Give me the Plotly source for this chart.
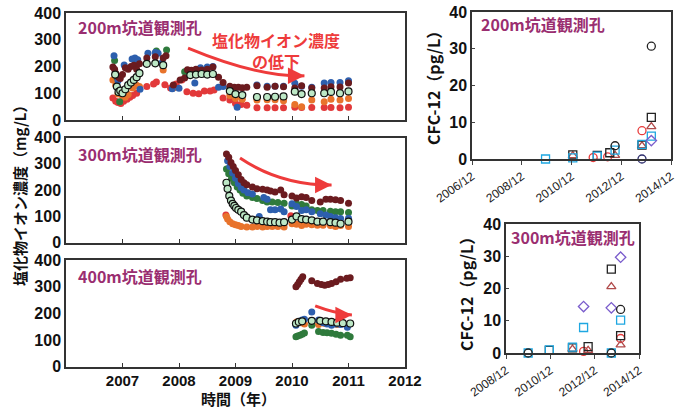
import plotly.graph_objects as go

# ---------------- Chloride data (decimal year, mg/L) ----------------
# 200 m gallery
blue200_t = [2006.85, 2006.92, 2007.03, 2007.17, 2007.22, 2007.27, 2007.31, 2007.45, 2007.58, 2007.63, 2007.7, 2007.88, 2008.0, 2008.28, 2008.38, 2008.5, 2008.6, 2008.7, 2008.78, 2009.03, 2009.38, 2009.56, 2009.7, 2009.85, 2010.05, 2010.17, 2010.35, 2010.57, 2010.69, 2010.85, 2011.0]
blue200_v = [240, 147, 206, 228, 232, 225, 115, 250, 252, 250, 214, 117, 119, 138, 195, 198, 200, 122, 125, 48, 131, 126, 126, 126, 137, 126, 122, 138, 140, 140, 147]
green200_t = [2006.86, 2006.9, 2006.95, 2007.25, 2007.6, 2007.78, 2008.1, 2008.2, 2008.9, 2011.0]
green200_v = [222, 160, 68, 225, 258, 262, 180, 185, 120, 142]
maroon200_t = [2006.83, 2006.86, 2006.88, 2006.9, 2006.93, 2006.96, 2007.0, 2007.05, 2007.1, 2007.15, 2007.2, 2007.25, 2007.3, 2007.43, 2007.58, 2007.72, 2007.77, 2007.9, 2008.02, 2008.1, 2008.15, 2008.22, 2008.3, 2008.4, 2008.5, 2008.6, 2008.7, 2008.78, 2008.9, 2008.98, 2009.05, 2009.12, 2009.2, 2009.38, 2009.56, 2009.7, 2009.85, 2010.05, 2010.17, 2010.35, 2010.57, 2010.69, 2010.85, 2011.0]
maroon200_v = [198, 190, 175, 165, 160, 155, 170, 195, 190, 200, 205, 190, 210, 232, 236, 232, 240, 131, 150, 157, 188, 186, 190, 187, 190, 198, 160, 140, 126, 122, 122, 121, 122, 128, 122, 126, 124, 120, 128, 120, 120, 124, 123, 138]
lgreen200_t = [2006.87, 2006.9, 2006.93, 2006.96, 2007.0, 2007.05, 2007.1, 2007.15, 2007.2, 2007.25, 2007.3, 2007.43, 2007.58, 2007.72, 2008.2, 2008.3, 2008.4, 2008.5, 2008.6, 2008.9, 2009.0, 2009.12, 2009.38, 2009.56, 2009.7, 2009.85, 2010.05, 2010.17, 2010.35, 2010.57, 2010.69, 2010.85, 2011.0]
lgreen200_v = [170, 125, 105, 110, 100, 115, 130, 140, 150, 160, 175, 210, 212, 205, 168, 170, 172, 170, 172, 108, 97, 93, 86, 86, 87, 88, 106, 97, 100, 100, 105, 100, 107]
orange200_t = [2006.83, 2006.88, 2006.92, 2006.96, 2007.0, 2007.05, 2007.1, 2007.18, 2007.25, 2007.3, 2007.72, 2007.9, 2008.9, 2009.0, 2009.12, 2009.38, 2009.56, 2009.7, 2009.85, 2010.05, 2010.17, 2010.35, 2010.57, 2010.69, 2010.85, 2011.0]
orange200_v = [150, 130, 97, 110, 90, 85, 95, 120, 130, 125, 187, 120, 92, 80, 78, 75, 76, 76, 72, 58, 50, 75, 68, 78, 75, 80]
red200_t = [2006.83, 2006.88, 2006.92, 2006.97, 2007.02, 2007.08, 2007.13, 2007.18, 2007.25, 2007.43, 2007.55, 2007.6, 2007.75, 2007.85, 2007.95, 2008.05, 2008.14, 2008.25, 2008.35, 2008.45, 2008.55, 2008.62, 2008.78, 2008.9, 2009.0, 2009.1, 2009.2, 2009.38, 2009.56, 2009.7, 2009.85, 2010.05, 2010.17, 2010.35, 2010.57, 2010.69, 2010.85, 2011.0]
red200_v = [82, 70, 65, 62, 70, 78, 85, 92, 100, 125, 135, 142, 132, 120, 135, 150, 106, 100, 98, 108, 108, 112, 82, 75, 62, 58, 55, 46, 46, 46, 46, 48, 47, 47, 47, 47, 46, 48]

# 300 m gallery
blue300_t = [2008.86, 2008.9, 2008.95, 2009.0, 2009.05, 2009.1, 2009.15, 2009.22, 2009.3, 2009.42, 2009.5, 2009.56, 2009.62, 2009.7, 2009.8, 2009.86, 2010.0, 2010.08, 2010.17, 2010.25, 2010.35, 2010.5, 2010.6, 2010.68, 2010.77, 2010.86, 2011.0]
blue300_v = [312, 290, 265, 245, 225, 210, 200, 190, 185, 100, 172, 165, 125, 125, 128, 118, 148, 138, 122, 125, 118, 110, 105, 100, 95, 92, 93]
green300_t = [2008.84, 2008.88, 2008.93, 2008.98, 2009.03, 2009.08, 2009.13, 2009.2, 2009.3, 2009.38, 2009.48, 2009.56, 2009.65, 2009.75, 2009.86, 2010.0, 2010.08, 2010.17, 2010.25, 2010.35, 2010.45, 2010.55, 2010.68, 2010.77, 2010.86, 2011.0]
green300_v = [280, 262, 245, 228, 212, 200, 188, 178, 172, 168, 160, 155, 155, 153, 150, 140, 148, 145, 140, 125, 122, 122, 120, 118, 118, 115]
maroon300_t = [2008.84, 2008.88, 2008.92, 2008.96, 2009.0, 2009.05, 2009.1, 2009.15, 2009.2, 2009.3, 2009.38, 2009.48, 2009.56, 2009.62, 2009.7, 2009.8, 2009.86, 2010.0, 2010.08, 2010.17, 2010.25, 2010.35, 2010.5, 2010.6, 2010.68, 2010.77, 2010.86, 2011.0]
maroon300_v = [337, 325, 305, 290, 275, 258, 240, 228, 220, 212, 205, 203, 200, 197, 193, 200, 182, 178, 170, 175, 172, 160, 155, 165, 165, 163, 160, 150]
lgreen300_t = [2008.84, 2008.86, 2008.89, 2008.92, 2008.95, 2008.98, 2009.01, 2009.05, 2009.1, 2009.15, 2009.2, 2009.3, 2009.38, 2009.48, 2009.56, 2009.62, 2009.7, 2009.78, 2009.86, 2010.0, 2010.08, 2010.17, 2010.25, 2010.35, 2010.45, 2010.55, 2010.68, 2010.77, 2010.86, 2011.0]
lgreen300_v = [228, 205, 178, 160, 148, 140, 132, 125, 118, 105, 95, 88, 85, 82, 80, 78, 78, 76, 78, 88, 100, 90, 88, 85, 80, 80, 78, 76, 72, 80]
orange300_t = [2008.84, 2008.86, 2008.9, 2008.95, 2009.0, 2009.05, 2009.1, 2009.2, 2009.3, 2009.38, 2009.48, 2009.56, 2009.65, 2009.75, 2009.86, 2010.0, 2010.08, 2010.17, 2010.25, 2010.35, 2010.45, 2010.55, 2010.68, 2010.77, 2010.86, 2011.0]
orange300_v = [100, 90, 80, 72, 68, 65, 62, 60, 60, 62, 60, 62, 62, 62, 60, 72, 70, 65, 70, 68, 66, 66, 65, 62, 65, 62]
red300_t = [2008.83, 2009.98]
red300_v = [105, 102]

# 400 m gallery
blue400_t = [2010.07, 2010.1, 2010.14, 2010.18, 2010.22, 2010.35, 2010.47, 2010.55, 2010.62, 2010.7, 2010.78, 2010.86, 2010.98]
blue400_v = [155, 165, 170, 175, 178, 205, 175, 165, 160, 155, 160, 158, 148]
green400_t = [2010.07, 2010.1, 2010.14, 2010.18, 2010.22, 2010.35, 2010.47, 2010.55, 2010.62, 2010.7, 2010.78, 2010.86, 2010.98, 2011.03]
green400_v = [112, 115, 118, 122, 126, 155, 132, 128, 127, 125, 122, 118, 118, 112]
maroon400_t = [2010.07, 2010.1, 2010.13, 2010.16, 2010.19, 2010.35, 2010.45, 2010.52, 2010.58, 2010.64, 2010.7, 2010.78, 2010.86, 2010.97, 2011.03]
maroon400_v = [300, 308, 318, 328, 337, 322, 312, 308, 305, 308, 312, 318, 328, 332, 333]
lgreen400_t = [2010.07, 2010.12, 2010.18, 2010.35, 2010.5, 2010.6, 2010.7, 2010.8, 2010.9, 2011.03]
lgreen400_v = [162, 168, 170, 172, 172, 170, 168, 165, 163, 162]
orange400_t = [2010.08, 2010.16, 2010.22, 2010.47, 2010.58, 2010.7, 2010.8]
orange400_v = [168, 165, 160, 158, 162, 160, 158]

# ---------------- CFC-12 data (pg/L) ----------------
c200_blackcirc_d = ["2012-09-01", "2014-02-15"]
c200_blackcirc_v = [3.6, 30.7]
c200_blacksq_d = ["2010-12-20", "2011-12-15", "2012-06-15", "2013-10-01", "2014-02-15"]
c200_blacksq_v = [1.1, 1.0, 1.7, 3.8, 11.3]
c200_redcirc_d = ["2011-10-15", "2012-05-15", "2013-10-01"]
c200_redcirc_v = [0.4, 0.6, 7.7]
c200_tri_d = ["2010-12-20", "2012-09-01", "2013-10-01", "2014-02-15"]
c200_tri_v = [0.9, 1.0, 3.6, 8.8]
c200_cyansq_d = ["2009-11-15", "2010-12-20", "2011-12-15", "2012-09-01", "2013-10-01", "2014-02-15"]
c200_cyansq_v = [0.0, 0.3, 0.8, 2.4, 4.0, 6.2]
c200_diam_d = ["2014-02-15"]
c200_diam_v = [5.0]
c200_navy_d = ["2013-10-01"]
c200_navy_v = [0.0]

c300_blackcirc_d = ["2009-12-01", "2013-09-01", "2014-02-01"]
c300_blackcirc_v = [0.0, 0.0, 13.5]
c300_blacksq_d = ["2010-11-15", "2011-12-01", "2012-08-15", "2013-09-01", "2014-02-01"]
c300_blacksq_v = [0.8, 1.6, 2.0, 26.0, 5.4]
c300_redcirc_d = ["2012-06-01", "2014-02-01"]
c300_redcirc_v = [0.5, 4.5]
c300_tri_d = ["2011-12-01", "2012-08-15", "2013-09-01", "2014-02-01"]
c300_tri_v = [1.2, 0.8, 20.6, 2.5]
c300_cyansq_d = ["2009-12-01", "2010-11-15", "2011-12-01", "2012-06-01", "2013-09-01", "2014-02-01"]
c300_cyansq_v = [0.0, 1.0, 1.8, 7.9, 0.0, 10.2]
c300_diam_d = ["2012-06-01", "2013-09-01", "2014-02-01"]
c300_diam_v = [14.4, 14.0, 29.7]

# ---------------- styling ----------------
W, H = 677, 409
C_BLUE = "#2d5fae"
C_GREEN = "#2f7a3c"
C_MAROON = "#6b1b1f"
C_LG = "#bde8c6"
C_ORANGE = "#e8732c"
C_RED = "#e2393a"
C_PURPLE = "#9a2e70"
ARROW = "#ee3b3b"
JP = "Noto Sans CJK JP"
NUM = "Liberation Sans"


def px_x(p):
    return p / W


def px_y(p):
    return 1 - p / H


fig = go.Figure()


def dots(t, v, color, ax, outline=None):
    fig.add_trace(go.Scatter(
        x=t, y=v, mode="markers", xaxis="x" + ax, yaxis="y" + ax,
        marker=dict(size=7, color=color,
                    line=dict(color=outline or color, width=1.2 if outline else 0)),
        showlegend=False, hoverinfo="skip"))


panels = [
    ("", red200_t, red200_v, orange200_t, orange200_v, green200_t, green200_v, blue200_t, blue200_v,
     maroon200_t, maroon200_v, lgreen200_t, lgreen200_v),
    ("2", red300_t, red300_v, orange300_t, orange300_v, green300_t, green300_v, blue300_t, blue300_v,
     maroon300_t, maroon300_v, lgreen300_t, lgreen300_v),
    ("3", [], [], orange400_t, orange400_v, green400_t, green400_v, blue400_t, blue400_v,
     maroon400_t, maroon400_v, lgreen400_t, lgreen400_v),
]
for (ax, rt, rv, ot, ov, gt, gv, bt, bv, mt, mv, lt, lv) in panels:
    dots(rt, rv, C_RED, ax)
    dots(ot, ov, C_ORANGE, ax)
    dots(gt, gv, C_GREEN, ax)
    dots(bt, bv, C_BLUE, ax)
    dots(mt, mv, C_MAROON, ax)
    dots(lt, lv, C_LG, ax, outline="#111111")


def opens(d, v, symbol, color, ax, size=8):
    fig.add_trace(go.Scatter(
        x=d, y=v, mode="markers", xaxis="x" + ax, yaxis="y" + ax,
        marker=dict(size=size, symbol=symbol, color=color,
                    line=dict(color=color, width=1.3)),
        showlegend=False, hoverinfo="skip", cliponaxis=False))


for ax, sets in [
    ("4", [(c200_navy_d, c200_navy_v, "circle-open", "#2b2b6b"),
           (c200_redcirc_d, c200_redcirc_v, "circle-open", "#e83a3a"),
           (c200_tri_d, c200_tri_v, "triangle-up-open", "#b04a4a"),
           (c200_blacksq_d, c200_blacksq_v, "square-open", "#222222"),
           (c200_cyansq_d, c200_cyansq_v, "square-open", "#1ea7e1"),
           (c200_diam_d, c200_diam_v, "diamond-open", "#7a5ccc"),
           (c200_blackcirc_d, c200_blackcirc_v, "circle-open", "#222222")]),
    ("5", [(c300_redcirc_d, c300_redcirc_v, "circle-open", "#e83a3a"),
           (c300_tri_d, c300_tri_v, "triangle-up-open", "#b04a4a"),
           (c300_blacksq_d, c300_blacksq_v, "square-open", "#222222"),
           (c300_cyansq_d, c300_cyansq_v, "square-open", "#1ea7e1"),
           (c300_diam_d, c300_diam_v, "diamond-open", "#7a5ccc"),
           (c300_blackcirc_d, c300_blackcirc_v, "circle-open", "#222222")]),
]:
    for d, v, s, c in sets:
        opens(d, v, s, c, ax)

tickfont_l = dict(family=NUM, size=16, color="#111111", weight="bold")
xtickfont_l = dict(family=NUM, size=15, color="#111111", weight="bold")

left_dom = [px_x(66), px_x(405)]
y_doms = [[px_y(120), px_y(13)], [px_y(242.7), px_y(137.5)], [px_y(366.7), px_y(260)]]
years = [2007, 2008, 2009, 2010, 2011, 2012]

layout = dict(
    template="none",
    width=W, height=H, margin=dict(l=0, r=0, t=0, b=0, autoexpand=False),
    paper_bgcolor="white", plot_bgcolor="white", showlegend=False,
)
for i, ax in enumerate(["", "2", "3"]):
    layout["xaxis" + ax] = dict(
        domain=left_dom, anchor="y" + ax, range=[2006, 2012], automargin=False,
        tickvals=years, ticktext=[str(y) for y in years],
        showticklabels=(ax == "3"), ticks="inside", ticklen=4, tickwidth=1,
        tickcolor="#333", showline=True, mirror=True, linecolor="#333", linewidth=1.5,
        showgrid=False, zeroline=False, tickfont=xtickfont_l)
    layout["yaxis" + ax] = dict(
        domain=y_doms[i], anchor="x" + ax, range=[0, 400], tickvals=[0, 100, 200, 300, 400],
        ticks="", showline=True, mirror=True, linecolor="#333", linewidth=1.5, automargin=False,
        showgrid=False, zeroline=False, tickfont=tickfont_l)

cfc_tickfont = dict(family=NUM, size=16, color="#111111", weight="bold")
cfc_xfont = dict(family=NUM, size=12, color="#222222")
top_ticks = ["2006-12-01", "2008-12-01", "2010-12-01", "2012-12-01", "2014-12-01"]
bot_ticks = ["2008-12-01", "2010-12-01", "2012-12-01", "2014-12-01"]
layout["xaxis4"] = dict(
    domain=[px_x(472), px_x(671)], anchor="y4", type="date", automargin=False,
    range=["2006-12-01", "2014-12-01"], tickvals=top_ticks,
    ticktext=[t[:4] + "/12" for t in top_ticks], tickangle=-35,
    ticks="outside", ticklen=4, showline=True, mirror=True, linecolor="#333",
    linewidth=1.5, showgrid=False, zeroline=False, tickfont=cfc_xfont)
layout["yaxis4"] = dict(
    domain=[px_y(159), px_y(12)], anchor="x4", range=[0, 40], tickvals=[0, 10, 20, 30, 40],
    ticks="inside", ticklen=3, showline=True, mirror=True, linecolor="#333", linewidth=1.5,
    automargin=False, showgrid=False, zeroline=False, tickfont=cfc_tickfont)
layout["xaxis5"] = dict(
    domain=[px_x(506), px_x(639)], anchor="y5", type="date", automargin=False,
    range=["2008-12-01", "2014-12-01"], tickvals=bot_ticks,
    ticktext=[t[:4] + "/12" for t in bot_ticks], tickangle=-35,
    ticks="outside", ticklen=4, showline=True, mirror=True, linecolor="#333",
    linewidth=1.5, showgrid=False, zeroline=False, tickfont=cfc_xfont)
layout["yaxis5"] = dict(
    domain=[px_y(353), px_y(224)], anchor="x5", range=[0, 40], tickvals=[0, 10, 20, 30, 40],
    ticks="inside", ticklen=3, showline=True, mirror=True, linecolor="#333", linewidth=1.5,
    automargin=False, showgrid=False, zeroline=False, tickfont=cfc_tickfont)

fig.update_layout(**layout)

# ---------------- text ----------------
ann = []


def label(text, x, y, size, color, angle=0, weight="bold", family=JP):
    ann.append(dict(text=text, x=x, y=y, xref="paper", yref="paper", showarrow=False,
                    xanchor="center", yanchor="middle", textangle=angle,
                    font=dict(family=family, size=size, color=color, weight=weight)))


label("200m坑道観測孔", px_x(140), px_y(27), 16, C_PURPLE)
label("300m坑道観測孔", px_x(140), px_y(154), 16, C_PURPLE)
label("400m坑道観測孔", px_x(140), px_y(276), 16, C_PURPLE)
label("200m坑道観測孔", px_x(543), px_y(24), 16, C_PURPLE)
label("300m坑道観測孔", px_x(573), px_y(237), 16, C_PURPLE)
label("塩化物イオン濃度<br>の低下", px_x(276), px_y(50.5), 16, ARROW)
label("塩化物イオン濃度（mg/L）", px_x(20), px_y(192), 15, "#111111", angle=-90)
label("時間（年）", px_x(238), px_y(398), 15, "#111111")
label("CFC-12（pg/L）", px_x(433), px_y(84), 16, "#111111", angle=-90)
label("CFC-12（pg/L）", px_x(466), px_y(290), 16, "#111111", angle=-90)

# ---------------- trend arrows ----------------
arrows = [
    ("", (2008.16, 269), (2009.4, 160), (2010.22, 165)),
    ("2", (2009.08, 322), (2009.79, 219), (2010.7, 219)),
    ("3", (2010.41, 228), (2010.76, 200), (2011.06, 194)),
]
shapes = []
for ax, s, c, e in arrows:
    shapes.append(dict(type="path", xref="x" + ax, yref="y" + ax,
                       path=f"M {s[0]},{s[1]} Q {c[0]},{c[1]} {e[0]},{e[1]}",
                       line=dict(color=ARROW, width=3)))
    ann.append(dict(x=e[0], y=e[1], xref="x" + ax, yref="y" + ax, ax=-10, ay=0,
                    text="", showarrow=True, arrowhead=2, arrowsize=1.1, arrowwidth=3,
                    arrowcolor=ARROW))

fig.update_layout(annotations=ann, shapes=shapes)
fig.write_html(
    "out.html",
    config={"displayModeBar": False},
    post_script="document.body.style.margin='0';document.body.style.overflow='hidden';")
